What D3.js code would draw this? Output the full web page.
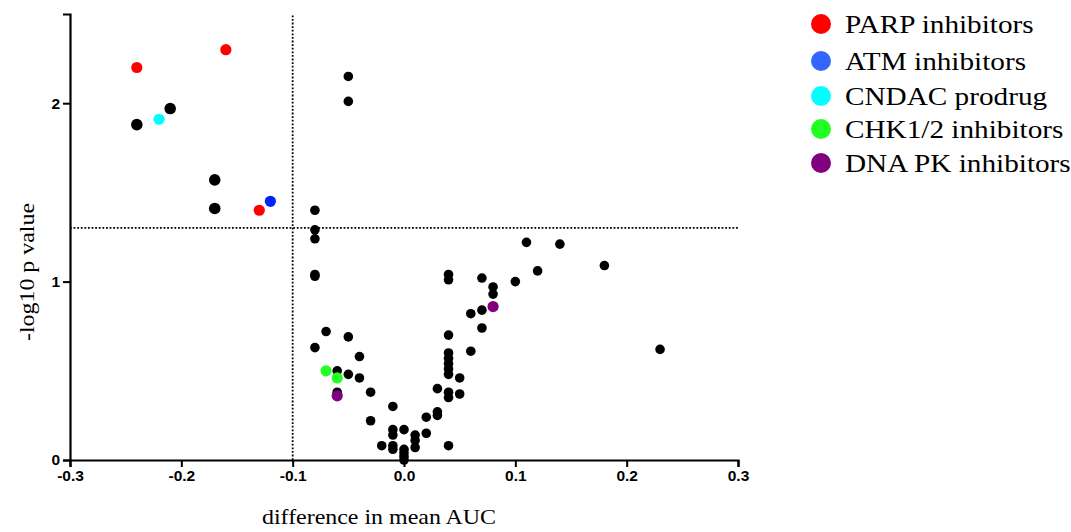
<!DOCTYPE html>
<html>
<head>
<meta charset="utf-8">
<script src="https://cdn.jsdelivr.net/npm/d3@7"></script>
<style>
  html, body { margin: 0; padding: 0; background: #fff; }
  svg { display: block; }
</style>
</head>
<body>
<svg id="chart" width="1071" height="532"></svg>
<script>
// Volcano plot: difference in mean AUC vs -log10 p value per compound

const xTicks = [-0.3, -0.2, -0.1, 0.0, 0.1, 0.2, 0.3];
const yTicks = [0, 1, 2];
const pThreshold = 1.301;   // -log10(0.05)
const aucThreshold = -0.1;

// compound classes, in legend order
const groupNames  = ["PARP inhibitors", "ATM inhibitors", "CNDAC prodrug", "CHK1/2 inhibitors", "DNA PK inhibitors"];
const groupColors = ["#ff0000", "#0022ff", "#00ffff", "#22ff22", "#800080"];
const legendColors = ["#ff0000", "#3366ff", "#00ffff", "#22ff22", "#800080"];

// [difference in mean AUC, -log10 p]
const parp   = [[-0.24, 2.20], [-0.16, 2.30], [-0.13, 1.40]];
const atm    = [[-0.12, 1.45]];
const cndac  = [[-0.22, 1.91]];
const chk    = [[-0.07, 0.50], [-0.06, 0.46]];
const dnapk  = [[-0.06, 0.36], [0.08, 0.86]];

// other compounds with strong AUC decrease
const otherHits = [[-0.24, 1.88], [-0.21, 1.97], [-0.17, 1.57], [-0.17, 1.41]];

// remaining compounds
const others = [
  [-0.05, 2.15], [-0.05, 2.01],
  [-0.08, 1.40], [-0.08, 1.29], [-0.08, 1.24], [-0.08, 1.04], [-0.08, 1.03],
  [-0.08, 0.63], [-0.07, 0.72], [-0.05, 0.69], [-0.04, 0.58],
  [-0.06, 0.50], [-0.05, 0.48], [-0.04, 0.46], [-0.06, 0.38], [-0.03, 0.38], [-0.03, 0.22],
  [-0.01, 0.30], [-0.02, 0.08], [-0.01, 0.17], [-0.01, 0.14], [-0.01, 0.08], [-0.01, 0.06],
  [0.00, 0.17], [0.00, 0.06], [0.00, 0.04], [0.00, 0.02], [0.00, 0.00],
  [0.01, 0.14], [0.01, 0.11], [0.01, 0.07],
  [0.02, 0.24], [0.02, 0.15],
  [0.03, 0.27], [0.03, 0.25], [0.03, 0.40],
  [0.04, 0.70], [0.04, 0.60], [0.04, 0.57], [0.04, 0.54], [0.04, 0.51], [0.04, 0.48],
  [0.04, 0.38], [0.04, 0.35], [0.04, 0.08], [0.04, 1.04], [0.04, 1.01],
  [0.05, 0.46], [0.05, 0.37],
  [0.06, 0.61], [0.06, 0.82],
  [0.07, 0.84], [0.07, 0.74], [0.07, 1.02],
  [0.08, 0.97], [0.08, 0.93],
  [0.10, 1.00], [0.11, 1.22], [0.12, 1.06], [0.14, 1.21], [0.18, 1.09], [0.23, 0.62]
];

const groups = [parp, atm, cndac, chk, dnapk];

const svg = d3.select("#chart");
const x = d3.scaleLinear().domain([-0.3, 0.3]).range([70, 738]);
const y = d3.scaleLinear().domain([0, 2.5]).range([460, 14]);
const serif = "'Liberation Serif', 'Times New Roman', serif";

// threshold guides
svg.append("line")
  .attr("x1", x(-0.3)).attr("x2", x(0.3))
  .attr("y1", y(pThreshold)).attr("y2", y(pThreshold))
  .attr("stroke", "#000").attr("stroke-width", 1.8).attr("stroke-dasharray", "1.8,1.8");
svg.append("line")
  .attr("x1", x(aucThreshold)).attr("x2", x(aucThreshold))
  .attr("y1", y(0)).attr("y2", y(2.5))
  .attr("stroke", "#000").attr("stroke-width", 1.8).attr("stroke-dasharray", "1.8,1.8");

// axes
const xAxis = svg.append("g")
  .attr("transform", `translate(0,${y(0)})`)
  .call(d3.axisBottom(x).tickValues(xTicks).tickFormat(d3.format(".1f")).tickSize(7).tickPadding(3));
const yAxis = svg.append("g")
  .attr("transform", `translate(${x(-0.3)},0)`)
  .call(d3.axisLeft(y).tickValues(yTicks).tickFormat(d3.format("d")).tickSize(7).tickPadding(3));
[xAxis, yAxis].forEach(g => {
  g.attr("font-family", "'Liberation Sans', Arial, sans-serif").attr("font-size", 15.5);
  g.select(".domain").attr("stroke", "#000").attr("stroke-width", 2.2);
  g.selectAll(".tick line").attr("stroke", "#000").attr("stroke-width", 2);
  g.selectAll(".tick text")
    .attr("fill", "#000")
    .style("font-weight", "bold")
    .style("font-size", "15.5px");
});
xAxis.selectAll(".tick text").text(d => d3.format(".1f")(d).replace("−", "-"));

// points
const plot = svg.append("g");
plot.selectAll("circle.other").data(others).join("circle")
  .attr("class", "other")
  .attr("cx", d => x(d[0])).attr("cy", d => y(d[1])).attr("r", 4.8).attr("fill", "#000");
plot.selectAll("circle.hit").data(otherHits).join("circle")
  .attr("class", "hit")
  .attr("cx", d => x(d[0])).attr("cy", d => y(d[1])).attr("r", 5.8).attr("fill", "#000");
groups.forEach((pts, i) => {
  plot.selectAll(`circle.g${i}`).data(pts).join("circle")
    .attr("class", `g${i}`)
    .attr("cx", d => x(d[0])).attr("cy", d => y(d[1])).attr("r", 5.6).attr("fill", groupColors[i]);
});

// axis titles (slightly wide-set serif)
svg.append("text")
  .attr("transform", "translate(379,524) scale(1.14,1)")
  .attr("text-anchor", "middle")
  .attr("font-family", serif)
  .attr("font-size", 21)
  .text("difference in mean AUC");
svg.append("text")
  .attr("transform", "translate(34,272) rotate(-90) scale(1.14,1)")
  .attr("text-anchor", "middle")
  .attr("font-family", serif)
  .attr("font-size", 21)
  .text("-log10 p value");

// legend
const legendY = [24, 61, 96, 129, 163];
const legend = svg.append("g");
groupNames.forEach((name, i) => {
  const row = legend.append("g").attr("transform", `translate(821,${legendY[i]})`);
  row.append("circle").attr("r", 10).attr("fill", legendColors[i]);
  row.append("text")
    .attr("transform", "translate(24,9) scale(1.17,1)")
    .attr("font-family", serif)
    .attr("font-size", 25)
    .attr("fill", "#000")
    .text(name);
});
</script>
</body>
</html>
